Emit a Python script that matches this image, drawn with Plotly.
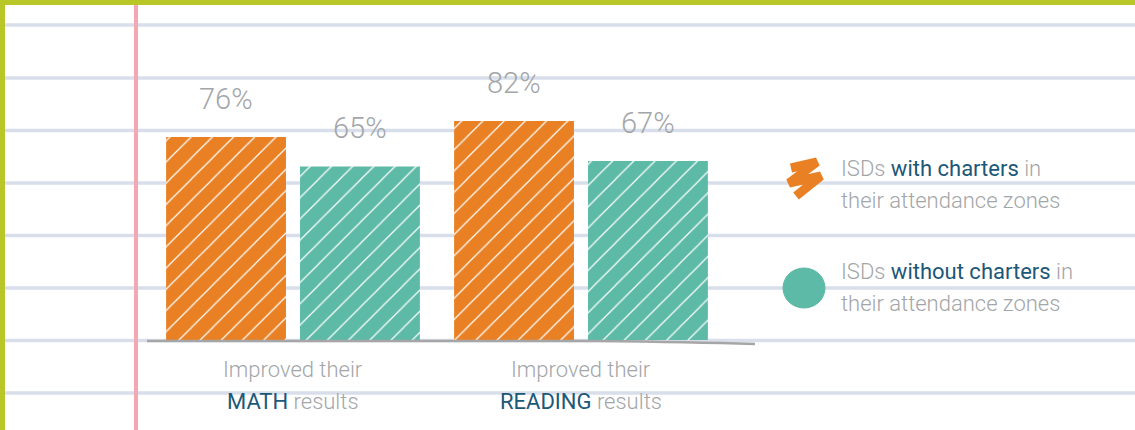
import plotly.graph_objects as go

# ---------------- data ----------------
categories = ["MATH", "READING"]
with_charters = [76, 82]
without_charters = [65, 67]
label_line1 = ["Improved their", "Improved their"]
label_keyword = ["MATH", "READING"]
label_tail = ["results", "results"]
legend_keywords = ["with charters", "without charters"]
series_names = ["ISDs with charters in their attendance zones",
                "ISDs without charters in their attendance zones"]

# ---------------- style ----------------
ORANGE = "#E98024"
TEAL = "#5DBAA7"
GREY_TXT = "#A3A6A9"
BLUE = "#1C5877"
RULE = "#D8DEEA"
PINK = "#F2A7B2"
LIME = "#B8C727"
FONT = "Roboto, 'Open Sans', sans-serif"
KW_STYLE = f"color:{BLUE};font-weight:400"

W, H = 1135, 430
L, R, T, B = 149, 410, 73, 90
PW = W - L - R
PH = H - T - B


def px(x):
    return (x - L) / PW


def py(y):
    return (H - B - y) / PH


fig = go.Figure()
colors = [ORANGE, TEAL]
for vals, col, name in zip([with_charters, without_charters], colors, series_names):
    fig.add_trace(go.Bar(
        x=categories, y=vals, name=name, showlegend=False,
        marker=dict(color=col, line=dict(width=0),
                    pattern=dict(shape="/", fgcolor="white", bgcolor=col,
                                 size=15, solidity=0.08, fillmode="replace")),
        hoverinfo="skip",
    ))

shapes = []
# notebook rules
for yy in [25, 78, 130.5, 183, 235.5, 288, 340.5, 393]:
    shapes.append(dict(type="line", xref="paper", yref="paper",
                       x0=px(5), x1=px(W), y0=py(yy), y1=py(yy),
                       line=dict(color=RULE, width=3.5), layer="below"))
# pink margin
shapes.append(dict(type="line", xref="paper", yref="paper",
                   x0=px(136), x1=px(136), y0=py(5), y1=py(H),
                   line=dict(color=PINK, width=4), layer="below"))
# lime border
shapes.append(dict(type="rect", xref="paper", yref="paper",
                   x0=px(0), x1=px(W), y0=py(0), y1=py(5),
                   fillcolor=LIME, line=dict(width=0), layer="above"))
shapes.append(dict(type="rect", xref="paper", yref="paper",
                   x0=px(0), x1=px(5), y0=py(0), y1=py(H),
                   fillcolor=LIME, line=dict(width=0), layer="above"))
# baseline
shapes.append(dict(type="path", xref="paper", yref="paper",
                   path=f"M {px(147)},{py(341)} L {px(600)},{py(341)} "
                        f"Q {px(690)},{py(342)} {px(755)},{py(344)}",
                   line=dict(color="#A6A6A6", width=2.5), layer="above"))
# legend icons
zig = [(791, 168), (817, 162), (789, 183), (821, 176), (796, 196)]
shapes.append(dict(type="path", xref="paper", yref="paper",
                   path="M " + " L ".join(f"{px(a)},{py(b)}" for a, b in zig),
                   line=dict(color=ORANGE, width=9), layer="above"))
shapes.append(dict(type="circle", xref="paper", yref="paper",
                   x0=px(783), x1=px(825), y0=py(308), y1=py(268),
                   fillcolor=TEAL, line=dict(color=TEAL, width=1), layer="above"))

annotations = []
# value labels
for vals, shift in [(with_charters, -67), (without_charters, 67)]:
    for c, v in zip(categories, vals):
        annotations.append(dict(x=c, y=v, xref="x", yref="y", text=f"{v}%",
                                showarrow=False, xshift=shift, yshift=38,
                                yanchor="middle",
                                font=dict(family=FONT, size=29, color=GREY_TXT, weight=300)))
# category labels
for c, l1, kw, tail in zip(categories, label_line1, label_keyword, label_tail):
    annotations.append(dict(x=c, y=0, xref="x", yref="y", text=l1, showarrow=False,
                            yshift=-29, yanchor="middle",
                            font=dict(family=FONT, size=22, color=GREY_TXT, weight=300)))
    annotations.append(dict(x=c, y=0, xref="x", yref="y",
                            text=f"<span style='{KW_STYLE}'>{kw}</span> {tail}",
                            showarrow=False, yshift=-61, yanchor="middle",
                            font=dict(family=FONT, size=22, color=GREY_TXT, weight=300)))
# legend text
for kw, (y1, y2) in zip(legend_keywords, [(168, 200), (271, 303)]):
    annotations.append(dict(x=px(839), y=py(y1), xref="paper", yref="paper",
                            xanchor="left", yanchor="middle", showarrow=False,
                            text=f"ISDs <span style='{KW_STYLE}'>{kw}</span> in",
                            font=dict(family=FONT, size=22, color=GREY_TXT, weight=300)))
    annotations.append(dict(x=px(839), y=py(y2), xref="paper", yref="paper",
                            xanchor="left", yanchor="middle", showarrow=False,
                            text="their attendance zones",
                            font=dict(family=FONT, size=22, color=GREY_TXT, weight=300)))

fig.update_layout(
    width=W, height=H,
    margin=dict(l=L, r=R, t=T, b=B, pad=0),
    paper_bgcolor="white", plot_bgcolor="rgba(0,0,0,0)",
    barmode="group", bargap=0.07, bargroupgap=0.105,
    xaxis=dict(range=[-0.5, 1.5], showgrid=False, zeroline=False, showline=False,
               showticklabels=False, ticks=""),
    yaxis=dict(range=[0, 100], showgrid=False, zeroline=False, showline=False,
               showticklabels=False, ticks=""),
    shapes=shapes, annotations=annotations,
    font=dict(family=FONT),
    hovermode=False,
)

fig.write_html("out.html",
               config={"displayModeBar": False},
               post_script="document.body.style.margin='0px';"
                           "document.body.style.overflow='hidden';")
